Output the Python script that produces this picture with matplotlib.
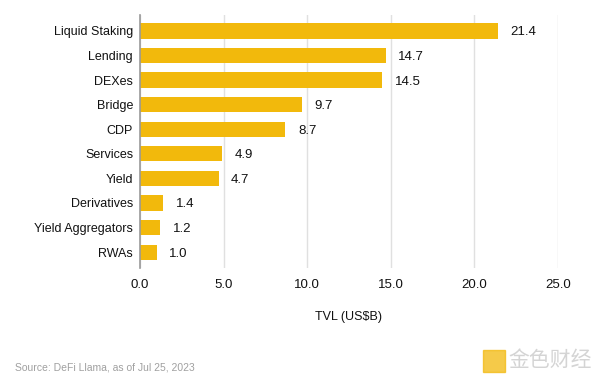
import matplotlib
matplotlib.use('Agg')
import matplotlib.pyplot as plt

# categories top -> bottom
categories = ['Liquid Staking', 'Lending', 'DEXes', 'Bridge', 'CDP',
              'Services', 'Yield', 'Derivatives', 'Yield Aggregators', 'RWAs']
tvl = [21.4, 14.7, 14.5, 9.7, 8.7, 4.9, 4.7, 1.4, 1.2, 1.0]
xticks = [0, 5, 10, 15, 20, 25]

plt.rcParams['font.family'] = ['Liberation Sans', 'DejaVu Sans']

fig = plt.figure(figsize=(6, 3.83), dpi=100)
ax = fig.add_axes([0.2333, 0.30, 0.6967, 0.661])

ypos = list(range(len(categories)))
ax.barh(ypos, tvl, height=0.62, color='#F2B90C', zorder=3)
for y, v in zip(ypos, tvl):
    ax.text(v + 0.75, y, f'{v:.1f}', va='center_baseline', ha='left', fontsize=9.5, color='#111111')

ax.set_xlim(0, 25)
ax.set_ylim(len(categories) - 0.35, -0.65)
ax.set_yticks(ypos)
ax.set_yticklabels(categories, fontsize=9, color='#111111', va='center_baseline')
ax.set_xticks(xticks)
ax.set_xticklabels([f'{t:.1f}' for t in xticks], fontsize=9.5, color='#111111')
ax.tick_params(axis='y', length=0, pad=5)
ax.tick_params(axis='x', length=0, pad=8)
ax.grid(axis='x', color='#e0e0e0', linewidth=1, zorder=0)
for s in ['top', 'right', 'bottom']:
    ax.spines[s].set_visible(False)
ax.spines['left'].set_color('#999999')
ax.spines['left'].set_linewidth(1.2)
ax.spines['left'].set_zorder(4)
ax.set_xlabel('TVL (US$B)', fontsize=9, labelpad=14, color='#111111')

fig.text(0.025, 0.032, 'Source: DeFi Llama, as of Jul 25, 2023', fontsize=7.5, color='#a0a0a0')

# watermark
fig.text(0.848, 0.06, '金色财经', fontsize=15, color='#d4d4d4', va='center',
         family=['Noto Sans CJK SC', 'DejaVu Sans'], ha='left')
fig.patches.append(plt.Rectangle((0.805, 0.029), 0.037, 0.057, transform=fig.transFigure,
                                 color='#F2B90C', alpha=0.75))

fig.savefig('out.png', dpi=100)
